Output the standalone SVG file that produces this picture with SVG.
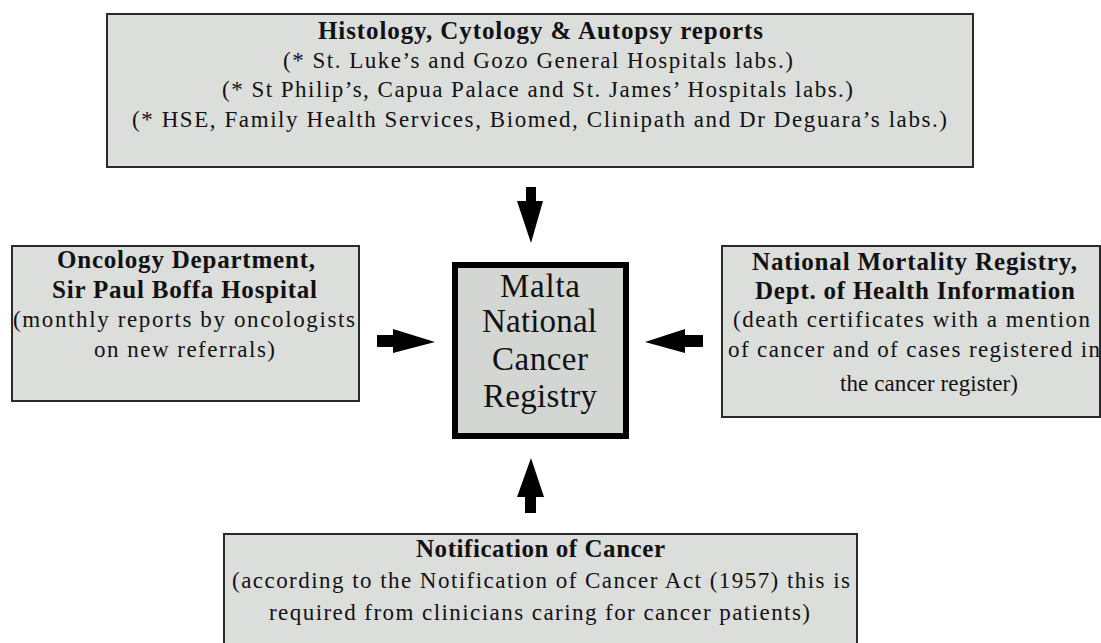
<svg xmlns="http://www.w3.org/2000/svg" width="1101" height="643" viewBox="0 0 1101 643">
<style>
.box{fill:#dcdedc;stroke:#2a2a2a;stroke-width:2}
.center{fill:#d3d6d3;stroke:#000;stroke-width:6}
text{font-family:"Liberation Serif","Times New Roman",serif;fill:#111}
.b{font-size:25px;font-weight:bold}
.r{font-size:23px}
.c{font-size:33px}
.arrow{fill:#000}
</style>
<rect width="1101" height="643" fill="#fff"/>
<g id="histology">
<rect class="box" x="107" y="14" width="866" height="153"/>
<text class="b" x="318" y="39" textLength="445" lengthAdjust="spacing">Histology, Cytology &amp; Autopsy reports</text>
<text class="r" x="283" y="68" textLength="510" lengthAdjust="spacing">(* St. Luke’s and Gozo General Hospitals labs.)</text>
<text class="r" x="222" y="97" textLength="631" lengthAdjust="spacing">(* St Philip’s, Capua Palace and St. James’ Hospitals labs.)</text>
<text class="r" x="132" y="127" textLength="815" lengthAdjust="spacing">(* HSE, Family Health Services, Biomed, Clinipath and Dr Deguara’s labs.)</text>
</g>
<g id="oncology">
<rect class="box" x="12" y="246" width="347" height="155"/>
<text class="b" x="57" y="268" textLength="258" lengthAdjust="spacing">Oncology Department,</text>
<text class="b" x="52" y="298" textLength="265" lengthAdjust="spacing">Sir Paul Boffa Hospital</text>
<text class="r" x="13" y="327" textLength="342" lengthAdjust="spacing">(monthly reports by oncologists</text>
<text class="r" x="94" y="357" textLength="181" lengthAdjust="spacing">on new referrals)</text>
</g>
<g id="registry">
<rect class="center" x="455" y="265" width="171" height="171"/>
<text class="c" x="500" y="297" textLength="80" lengthAdjust="spacing">Malta</text>
<text class="c" x="482" y="332" textLength="115" lengthAdjust="spacing">National</text>
<text class="c" x="492" y="370" textLength="96" lengthAdjust="spacing">Cancer</text>
<text class="c" x="483" y="407" textLength="114" lengthAdjust="spacing">Registry</text>
</g>
<g id="mortality">
<rect class="box" x="722" y="246" width="378" height="171"/>
<text class="b" x="752" y="270" textLength="325" lengthAdjust="spacing">National Mortality Registry,</text>
<text class="b" x="755" y="299" textLength="320" lengthAdjust="spacing">Dept. of Health Information</text>
<text class="r" x="733" y="327" textLength="357" lengthAdjust="spacing">(death certificates with a mention</text>
<text class="r" x="728" y="357" textLength="372" lengthAdjust="spacing">of cancer and of cases registered in</text>
<text class="r" x="840" y="391" textLength="178" lengthAdjust="spacing">the cancer register)</text>
</g>
<g id="notification">
<rect class="box" x="224" y="534" width="633" height="120"/>
<text class="b" x="416" y="557" textLength="249" lengthAdjust="spacing">Notification of Cancer</text>
<text class="r" x="232" y="588" textLength="618" lengthAdjust="spacing">(according to the Notification of Cancer Act (1957) this is</text>
<text class="r" x="269" y="620" textLength="541" lengthAdjust="spacing">required from clinicians caring for cancer patients)</text>
</g>
<g id="connectors">
<polygon class="arrow" points="526,187 536,187 536,201 543,201 531,243 517,201 526,201"/>
<polygon class="arrow" points="525,513 536,513 536,497 544,497 531,458 517,497 525,497"/>
<polygon class="arrow" points="377,335 393,335 393,329 435,342 393,353 393,347 377,347"/>
<polygon class="arrow" points="703,335 685,335 685,329 645,342 685,353 685,347 703,347"/>
</g>
</svg>
